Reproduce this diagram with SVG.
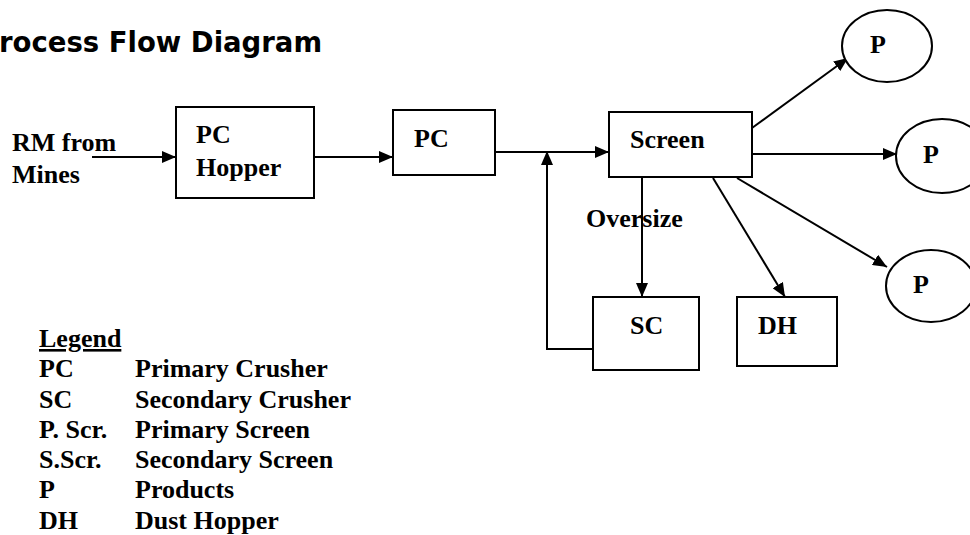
<svg xmlns="http://www.w3.org/2000/svg" width="970" height="535" viewBox="0 0 970 535">
  <defs>
    <marker id="arrow" viewBox="0 0 14 12" refX="14" refY="6" markerWidth="14" markerHeight="12" markerUnits="userSpaceOnUse" orient="auto">
      <path d="M0,0 L14,6 L0,12 Z" fill="#000"/>
    </marker>
  </defs>
  <style>
    .box { fill: #fff; stroke: #000; stroke-width: 2; }
    .lbl { font-family: "Liberation Serif", "Times New Roman", serif; font-weight: bold; font-size: 26px; fill: #000; }
    .edge { fill: none; stroke: #000; stroke-width: 2; }
    .arr { marker-end: url(#arrow); }
    .title { font-family: "DejaVu Sans", Verdana, sans-serif; font-weight: bold; font-size: 27.5px; fill: #000; }
  </style>
  <rect width="970" height="535" fill="#fff"/>

  <text class="title" x="-1" y="52">rocess Flow Diagram</text>

  <!-- connectors -->
  <g id="connectors">
    <line class="edge arr" x1="92" y1="157" x2="176" y2="157"/>
    <line class="edge arr" x1="314" y1="157" x2="393" y2="157"/>
    <line class="edge arr" x1="495" y1="152" x2="609" y2="152"/>
    <polyline class="edge arr" points="594,349 547,349 547,151"/>
    <line class="edge arr" x1="642" y1="177" x2="642" y2="297"/>
    <line class="edge arr" x1="713" y1="178" x2="785" y2="297"/>
    <line class="edge arr" x1="752" y1="128" x2="848" y2="58"/>
    <line class="edge arr" x1="750" y1="154" x2="897" y2="154"/>
    <line class="edge arr" x1="737" y1="178" x2="887" y2="267"/>
  </g>

  <text class="lbl" x="12" y="151">RM from</text>
  <text class="lbl" x="12" y="183">Mines</text>
  <text class="lbl" x="586" y="227">Oversize</text>

  <g id="pc-hopper">
    <rect class="box" x="176" y="107" width="138" height="91"/>
    <text class="lbl" x="196" y="143">PC</text>
    <text class="lbl" x="196" y="176">Hopper</text>
  </g>
  <g id="pc">
    <rect class="box" x="393" y="110" width="102" height="65"/>
    <text class="lbl" x="414" y="147">PC</text>
  </g>
  <g id="screen">
    <rect class="box" x="609" y="112" width="143" height="65"/>
    <text class="lbl" x="630" y="148">Screen</text>
  </g>
  <g id="sc">
    <rect class="box" x="593" y="297" width="106" height="73"/>
    <text class="lbl" x="630" y="334">SC</text>
  </g>
  <g id="dh">
    <rect class="box" x="737" y="297" width="100" height="69"/>
    <text class="lbl" x="758" y="334">DH</text>
  </g>
  <g id="p1">
    <ellipse class="box" cx="887" cy="46" rx="45" ry="36"/>
    <text class="lbl" x="870" y="53">P</text>
  </g>
  <g id="p2">
    <ellipse class="box" cx="942" cy="156" rx="46" ry="37"/>
    <text class="lbl" x="923" y="163">P</text>
  </g>
  <g id="p3">
    <ellipse class="box" cx="931" cy="286" rx="45" ry="36"/>
    <text class="lbl" x="913" y="293">P</text>
  </g>

  <g id="legend" class="lbl">
    <text x="39" y="347" text-decoration="underline">Legend</text>
    <text x="39" y="377">PC</text><text x="135" y="377">Primary Crusher</text>
    <text x="39" y="408">SC</text><text x="135" y="408">Secondary Crusher</text>
    <text x="39" y="438">P. Scr.</text><text x="135" y="438">Primary Screen</text>
    <text x="39" y="468">S.Scr.</text><text x="135" y="468">Secondary Screen</text>
    <text x="39" y="498">P</text><text x="135" y="498">Products</text>
    <text x="39" y="529">DH</text><text x="135" y="529">Dust Hopper</text>
  </g>
</svg>
